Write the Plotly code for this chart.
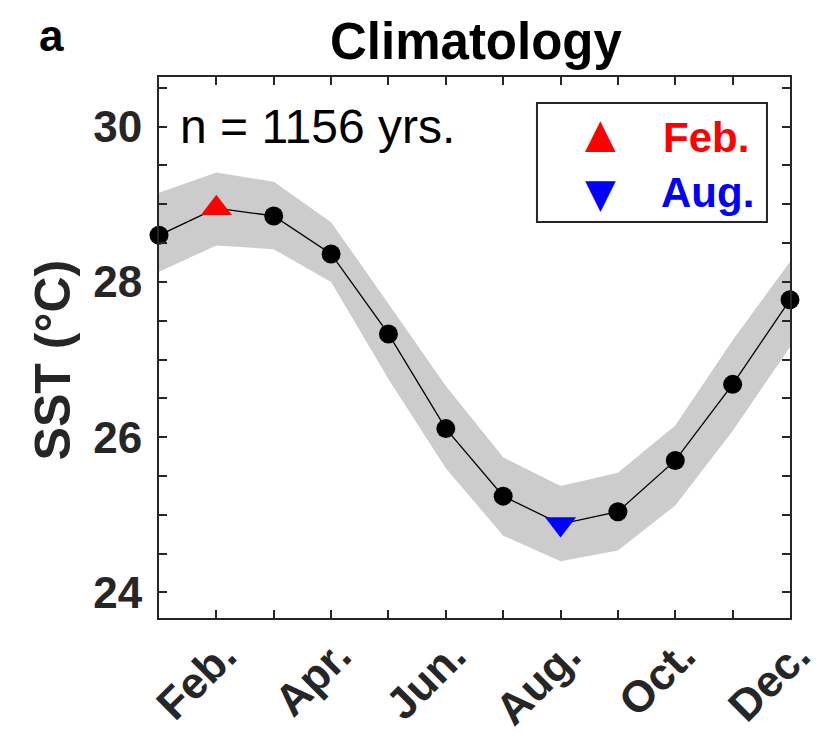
import plotly.graph_objects as go

# Monthly SST climatology (°C): mean and spread envelope
months = list(range(1, 13))
month_labels = ["Jan.", "Feb.", "Mar.", "Apr.", "May", "Jun.",
                "Jul.", "Aug.", "Sep.", "Oct.", "Nov.", "Dec."]
sst_mean = [28.60, 28.95, 28.85, 28.36, 27.33, 26.11, 25.24, 24.88, 25.04, 25.70, 26.68, 27.77]
sst_upper = [29.15, 29.41, 29.29, 28.77, 27.72, 26.66, 25.74, 25.37, 25.54, 26.15, 27.25, 28.26]
sst_lower = [28.13, 28.47, 28.42, 28.00, 26.75, 25.60, 24.73, 24.40, 24.54, 25.12, 26.08, 27.16]
y_ticks = [24 + 0.5 * i for i in range(14)]
n_years = 1156

FONT = "Liberation Sans, Arial, Helvetica, sans-serif"
AXIS = "#262626"

# highlight warmest (Feb.) and coolest (Aug.) months
i_max = sst_mean.index(max(sst_mean))
i_min = sst_mean.index(min(sst_mean))
symbols = ["circle"] * 12
colors = ["black"] * 12
sizes = [19] * 12
symbols[i_max], colors[i_max], sizes[i_max] = "triangle-up", "#ff0000", 27
symbols[i_min], colors[i_min], sizes[i_min] = "triangle-down", "#0000ff", 27

fig = go.Figure()

# shaded envelope
fig.add_trace(go.Scatter(
    x=months + months[::-1],
    y=sst_upper + sst_lower[::-1],
    fill="toself", fillcolor="rgb(204,204,204)",
    line=dict(width=0), mode="lines", hoverinfo="skip", showlegend=False,
))

# climatological mean
fig.add_trace(go.Scatter(
    x=months, y=sst_mean, mode="lines+markers",
    line=dict(color="black", width=1.3),
    marker=dict(symbol=symbols, color=colors, size=sizes, opacity=1, line=dict(width=0)),
    cliponaxis=False, showlegend=False,
))

xt = [lab if m % 2 == 0 else "" for m, lab in zip(months, month_labels)]
yt = [str(int(v)) if v % 2 == 0 else "" for v in y_ticks]

fig.update_xaxes(
    range=[1, 12], tickvals=months, ticktext=xt, tickangle=-45,
    ticks="inside", ticklen=8, tickwidth=1.5, tickcolor=AXIS,
    showline=True, linewidth=2, linecolor=AXIS, mirror="ticks",
    showgrid=False, zeroline=False, automargin=False,
    tickfont=dict(family=FONT, size=44, color="#262626", weight="bold"),
    ticklabelstandoff=-8, ticklabelshift=7,
)
fig.update_yaxes(
    range=[23.67, 30.64], tickvals=y_ticks, ticktext=yt,
    ticks="inside", ticklen=8, tickwidth=1.5, tickcolor=AXIS,
    showline=True, linewidth=2, linecolor=AXIS, mirror="ticks",
    showgrid=False, zeroline=False, automargin=False,
    tickfont=dict(family=FONT, size=44, color="#262626", weight="bold"),
    ticklabelstandoff=6,
)

annotations = [
    dict(text="<b>Climatology</b>", x=0.502, y=1.0647, xref="paper", yref="paper",
         xanchor="center", yanchor="middle", showarrow=False,
         font=dict(family=FONT, size=51, color="black")),
    dict(text="<b>a</b>", x=-0.171, y=1.076, xref="paper", yref="paper",
         xanchor="center", yanchor="middle", showarrow=False,
         font=dict(family=FONT, size=44, color="black")),
    dict(text="<b>SST (°C)</b>", x=-0.168, y=0.478, xref="paper", yref="paper",
         xanchor="center", yanchor="middle", textangle=-90, showarrow=False,
         font=dict(family=FONT, size=50, color="#262626")),
    dict(text=f"n = {n_years} yrs.", x=0.030, y=0.9076, xref="paper", yref="paper",
         xanchor="left", yanchor="middle", showarrow=False,
         font=dict(family=FONT, size=48, color="black")),
    # legend entries
    dict(text="▲", x=0.699, y=0.8965, xref="paper", yref="paper",
         xanchor="center", yanchor="middle", showarrow=False,
         font=dict(family="DejaVu Sans", size=40, color="#ff0000")),
    dict(text="▼", x=0.699, y=0.7856, xref="paper", yref="paper",
         xanchor="center", yanchor="middle", showarrow=False,
         font=dict(family="DejaVu Sans", size=40, color="#0000ff")),
    dict(text="<b>" + month_labels[i_max] + "</b>", x=0.7956, y=0.889, xref="paper", yref="paper",
         xanchor="left", yanchor="middle", showarrow=False,
         font=dict(family=FONT, size=42, color="#ff0000")),
    dict(text="<b>" + month_labels[i_min] + "</b>", x=0.7925, y=0.7856, xref="paper", yref="paper",
         xanchor="left", yanchor="middle", showarrow=False,
         font=dict(family=FONT, size=42, color="#0000ff")),
]

fig.update_layout(
    width=828, height=749,
    margin=dict(l=159, r=38, t=77, b=131),
    paper_bgcolor="white", plot_bgcolor="white",
    annotations=annotations,
    shapes=[dict(type="rect", xref="paper", yref="paper",
                 x0=0.599, x1=0.9635, y0=0.732, y1=0.952,
                 line=dict(color="#262626", width=2), fillcolor="white", layer="above")],
    showlegend=False,
)

fig.write_html("out.html")
